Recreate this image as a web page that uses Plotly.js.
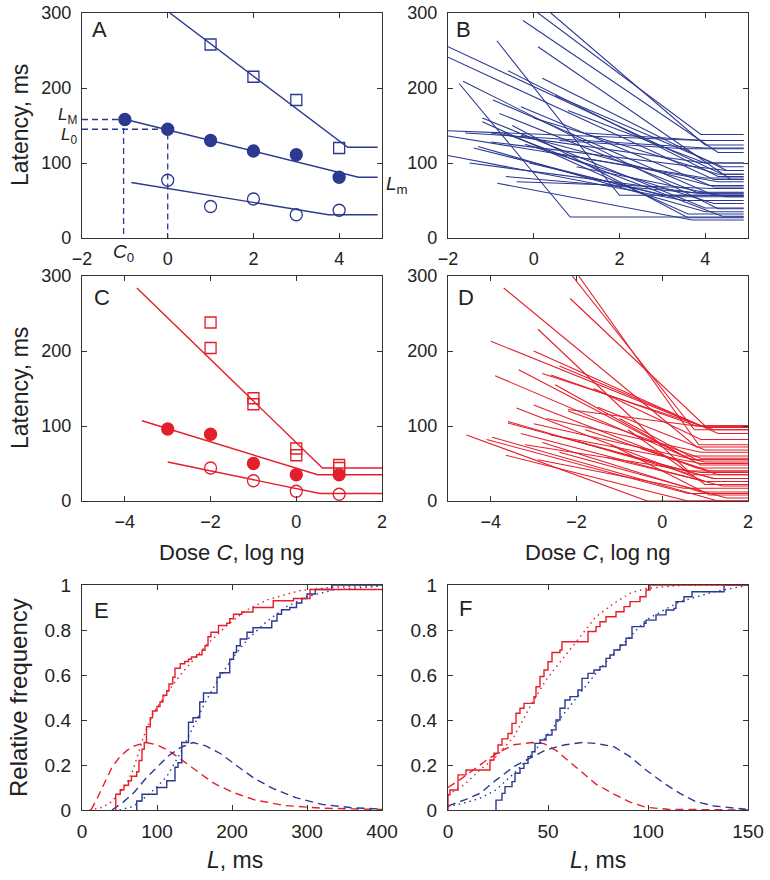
<!DOCTYPE html>
<html>
<head>
<meta charset="utf-8">
<script src="https://cdn.plot.ly/plotly-3.0.1.min.js"></script>
<style>
html,body{margin:0;padding:0;background:#fff}
#chart{width:770px;height:880px}
</style>
</head>
<body>
<div id="chart"></div>
<script>
const BLUE='#2b3990', RED='#e41e2a';
const FONT='Liberation Sans, Arial, Helvetica, sans-serif';

// ---- panel A: one animal, three latency measures vs dose
const aSqX=[1,2,3,4],           aSqY=[258,215,184,120];
const aFillX=[-1,0,1,2,3,4],    aFillY=[158,145,130,116,111,81];
const aOpenX=[0,1,2,3,4],       aOpenY=[77,42,52,31,37];
const aSqFitX=[0.05,4.2,4.9],   aSqFitY=[300,121,121];
const aFillFitX=[-1.05,4.45,4.9], aFillFitY=[159,81,81];
const aOpenFitX=[-0.85,3.75,4.9], aOpenFitY=[74,31,31];
const aC0=-1.03, aLM=158, aL0=145;

// ---- panel B: fitted broken lines, all animals (start, kink, plateau)
const bX0=[0.1,0.4,-0.25,0.1,-2,-2,-0.86,-1.74,-1.65,-0.6,0.2,-2,-2,-2,-1.2,-0.95,-0.8,-0.65,-0.85,-0.4,-1.2,-1.4,-1.0,-0.5,-0.3,0.5,-1.3,-0.2,0.0,-1.6,0.6,-0.7,0.3,-1.0,0.8,-0.3,1.0,-1.5,-0.1,1.2];
const bY0=[300,300,290,255,255,241,263,206,209,223,213,143,136,110,160,184,166,82,73,75,155,120,140,150,137,190,122,125,160,140,130,140,115,128,170,175,95,100,100,140];
const bXk=[3.9,4.0,4.3,4.6,4.4,4.2,2.0,0.85,4.3,4.3,4.5,3.9,4.0,3.5,4.0,4.2,3.8,4.0,3.7,4.2,3.6,3.0,4.0,3.6,4.1,4.4,4.0,4.2,4.3,4.0,3.5,4.4,4.3,4.5,4.0,4.2,4.5,3.8,3.2,4.0];
const bYk=[138,124,114,78,85,78,57,28,39,82,90,130,80,50,40,57,61,59,24,66,32,57,100,27,70,95,35,46,85,120,119,29,75,90,100,68,55,60,55,130];
const bEnd=4.9;

// ---- panel C: one animal (red group)
const cSqX=[-2,-2,-1,-1,0,0,1,1],  cSqY=[238,204,137,129,70,61,48,44];
const cFillX=[-3,-2,-1,0,1],       cFillY=[96,89,50,35,35];
const cOpenX=[-2,-1,0,1],          cOpenY=[44,27,13,9];
const cSqFitX=[-3.72,0.61,2],      cSqFitY=[284,44,44];
const cFillFitX=[-3.6,0.5,2],      cFillFitY=[107,35,35];
const cOpenFitX=[-3,0.55,2],       cOpenFitY=[52,10,10];

// ---- panel D: fitted broken lines, all animals (red group)
const dX0=[-2.1,-1.95,-2.15,-3.7,-4.0,-3.9,-2.9,-3.0,-3.35,-2.8,-2.6,-2.5,-2.2,-3.4,-3.6,-3.6,-4.57,-3.97,-3.65,-3.0,-3.0,-2.2,-2.8,-2.9,-1.8,-2.0,-3.3,-1.5,-2.6,-1.0,-1.2,-2.4,-1.6,-0.8,-3.2,-2.4,-0.5,-4.1,-1.3,-2.7];
const dY0=[300,300,270,284,213,167,229,200,175,170,168,155,122,124,106,104,88,85,61,103,128,120,78,55,95,80,90,125,88,110,75,65,150,95,75,180,70,82,58,110];
const dXk=[0.75,0.85,1.0,0.8,0.9,0.7,0.6,1.3,0.9,1.2,0.8,0.5,0.8,1.0,0.7,1.2,-0.35,1.3,0.6,1.0,0.8,0.9,0.9,0.5,1.1,1.2,1.4,1.0,0.9,0.8,1.1,1.5,0.9,1.0,0.9,1.0,1.3,0.6,1.0,0.9];
const dYk=[95,75,100,72,100,55,40,90,48,95,100,60,100,26,35,30,0,0,0,52,44,57,12,17,40,30,20,68,50,55,8,4,82,22,38,98,35,10,26,65];
const dEnd=2;

// ---- panel E: empirical cdf (steps), fitted cdf (dotted), density (dashed)
const eRedX=[45,51,56,62,66,73,76,80,83,86,91,94,100,104,108,113,116,121,124,131,137,142,146,153,160,164,168,172,182,193,197,202,213,228,255,282,304,400];
const eRedY=[0.07,0.09,0.11,0.13,0.15,0.17,0.22,0.27,0.30,0.37,0.41,0.44,0.46,0.48,0.51,0.53,0.56,0.59,0.63,0.65,0.66,0.67,0.68,0.69,0.71,0.73,0.77,0.79,0.82,0.83,0.85,0.87,0.88,0.90,0.93,0.94,0.98,0.98];
const eBlueX=[73,80,100,113,124,128,133,142,148,157,162,180,184,197,202,206,211,220,228,253,260,266,277,286,293,300,311,333,400];
const eBlueY=[0.04,0.07,0.10,0.13,0.19,0.21,0.30,0.39,0.41,0.48,0.52,0.59,0.61,0.67,0.70,0.73,0.76,0.79,0.81,0.84,0.87,0.89,0.90,0.92,0.94,0.96,0.98,1.0,1.0];
const eRedPdfX=[12,20,30,40,50,60,70,85,100,115,130,150,175,200,230,270,320,400];
const eRedPdfY=[0,0.05,0.12,0.19,0.235,0.265,0.285,0.30,0.29,0.265,0.23,0.18,0.12,0.08,0.045,0.02,0.008,0.002];
const eBluePdfX=[40,55,70,85,100,115,130,148,165,185,205,230,255,285,320,360,400];
const eBluePdfY=[0,0.035,0.08,0.14,0.19,0.24,0.275,0.30,0.285,0.25,0.20,0.14,0.095,0.055,0.025,0.01,0.004];
const eRedCdfX=[10,25,37,50,60,68,75,82,95,113,131,148,166,193,220,246,290,335,400];
const eRedCdfY=[0,0.01,0.03,0.074,0.12,0.178,0.25,0.326,0.43,0.52,0.6,0.667,0.733,0.82,0.889,0.933,0.975,0.99,1.0];
const eBlueCdfX=[50,68,91,113,131,148,166,184,202,220,246,273,300,335,400];
const eBlueCdfY=[0,0.015,0.074,0.148,0.252,0.37,0.489,0.593,0.681,0.756,0.837,0.904,0.948,0.978,0.996];

// ---- panel F
const fRedX=[0,1,5,9,21,23,25,27,30,32,34,36,38,43,44,46,48,50,52,56,57,70,74,76,79,84,88,91,96,99,101,150];
const fRedY=[0.067,0.089,0.156,0.178,0.222,0.252,0.289,0.316,0.34,0.385,0.43,0.452,0.474,0.504,0.548,0.593,0.622,0.659,0.70,0.711,0.748,0.793,0.815,0.837,0.859,0.881,0.904,0.926,0.948,0.978,1.0,1.0];
const fBlueX=[24,27,28.5,32,33.5,36,38,40,42,43.5,46,49,52,54,56,58.5,61,65,67,70,73,76,79,81,83,86,89,92,98,99,104,109,113,114,118,122,138,150];
const fBlueY=[0.044,0.074,0.104,0.126,0.163,0.185,0.207,0.237,0.259,0.296,0.311,0.333,0.356,0.40,0.452,0.489,0.504,0.533,0.585,0.607,0.622,0.637,0.674,0.689,0.711,0.733,0.763,0.815,0.83,0.844,0.867,0.889,0.896,0.926,0.948,0.97,1.0,1.0];
const fRedPdfX=[0,6,13,19,26,33,42,48,54,60,66,74,83,91,99,110,150];
const fRedPdfY=[0.10,0.135,0.18,0.22,0.26,0.29,0.30,0.295,0.265,0.22,0.175,0.115,0.07,0.035,0.012,0.003,0];
const fBluePdfX=[0,9,16,24,33,41,49,58,67,74,83,91,99,108,116,124,133,149];
const fBluePdfY=[0.018,0.047,0.074,0.133,0.193,0.23,0.267,0.289,0.30,0.296,0.281,0.237,0.178,0.119,0.074,0.037,0.018,0.003];
const fRedCdfX=[0,8,16,24,33,41,49,58,66,74,83,91,99,116,133,150];
const fRedCdfY=[0.067,0.111,0.178,0.237,0.326,0.459,0.578,0.681,0.77,0.859,0.919,0.963,0.985,0.998,1.0,1.0];
const fBlueCdfX=[0,9,16,24,33,41,49,58,66,74,83,91,99,108,116,133,149];
const fBlueCdfY=[0.015,0.033,0.052,0.089,0.163,0.237,0.326,0.43,0.519,0.607,0.696,0.77,0.844,0.889,0.926,0.97,0.997];

// page geometry in pixels
const W=770, H=880;
const fx=p=>p/W, fy=p=>1-p/H;
const DASH='8px,5px', DOT='1.5px,4px';

function broken(x0,y0,xk,yk,xEnd){
  const xs=[], ys=[];
  for(let i=0;i<x0.length;i++){
    xs.push(x0[i],xk[i],xEnd,null);
    ys.push(y0[i],yk[i],yk[i],null);
  }
  return {xs,ys};
}

function line(x,y,color,ax,dash,w){
  return {type:'scatter',mode:'lines',x,y,xaxis:'x'+ax,yaxis:'y'+ax,
    line:{color,width:w||1.4,dash:dash||'solid'},hoverinfo:'skip'};
}
function pts(x,y,color,ax,symbol,size){
  return {type:'scatter',mode:'markers',x,y,xaxis:'x'+ax,yaxis:'y'+ax,
    marker:{symbol,size,color,line:{color,width:1.3}},hoverinfo:'skip'};
}
function steps(x,y,color,ax){
  return {type:'scatter',mode:'lines',x:[x[0],...x],y:[0,...y],xaxis:'x'+ax,yaxis:'y'+ax,
    line:{color,width:1.4,shape:'hv'},hoverinfo:'skip'};
}

const bL=broken(bX0,bY0,bXk,bYk,bEnd);
const dL=broken(dX0,dY0,dXk,dYk,dEnd);

const traces=[
  // A
  line([-2,aC0,aC0,null,-2,0,0],[aLM,aLM,0,null,aL0,aL0,0],BLUE,'','6px,4px',1.3),
  line(aSqFitX,aSqFitY,BLUE,''),
  line(aFillFitX,aFillFitY,BLUE,''),
  line(aOpenFitX,aOpenFitY,BLUE,''),
  pts(aSqX,aSqY,BLUE,'','square-open',11),
  pts(aFillX,aFillY,BLUE,'','circle',12),
  pts(aOpenX,aOpenY,BLUE,'','circle-open',12),
  // B
  line(bL.xs,bL.ys,BLUE,'2',null,1.1),
  // C
  line(cSqFitX,cSqFitY,RED,'3'),
  line(cFillFitX,cFillFitY,RED,'3'),
  line(cOpenFitX,cOpenFitY,RED,'3'),
  pts(cSqX,cSqY,RED,'3','square-open',11),
  pts(cFillX,cFillY,RED,'3','circle',12),
  pts(cOpenX,cOpenY,RED,'3','circle-open',12),
  // D
  line(dL.xs,dL.ys,RED,'4',null,1.1),
  // E
  line(eRedPdfX,eRedPdfY,RED,'5',DASH),
  line(eBluePdfX,eBluePdfY,BLUE,'5',DASH),
  line(eRedCdfX,eRedCdfY,RED,'5',DOT),
  line(eBlueCdfX,eBlueCdfY,BLUE,'5',DOT),
  steps(eBlueX,eBlueY,BLUE,'5'),
  steps(eRedX,eRedY,RED,'5'),
  // F
  line(fRedPdfX,fRedPdfY,RED,'6',DASH),
  line(fBluePdfX,fBluePdfY,BLUE,'6',DASH),
  line(fRedCdfX,fRedCdfY,RED,'6',DOT),
  line(fBlueCdfX,fBlueCdfY,BLUE,'6',DOT),
  steps(fBlueX,fBlueY,BLUE,'6'),
  steps(fRedX,fRedY,RED,'6'),
];

const common={showline:true,mirror:'ticks',linecolor:'#333',linewidth:1.2,
  ticks:'inside',ticklen:5,tickcolor:'#333',tickwidth:1,showgrid:false,zeroline:false,
  fixedrange:true};

function xa(l,r,range,tickvals,anchor,fs){
  return {...common,domain:[fx(l),fx(r)],range,tickvals,anchor,
    tickfont:{family:FONT,size:fs||18,color:'#222'},ticklabelstandoff:4};
}
function ya(b,t,range,tickvals,anchor,fs){
  return {...common,domain:[fy(b),fy(t)],range,tickvals,anchor,
    tickfont:{family:FONT,size:fs||18,color:'#222'},ticklabelstandoff:6};
}

const L1=82,R1=382,L2=448,R2=748;
const yLat=[0,100,200,300], yRel=[0,0.2,0.4,0.6,0.8,1];

function note(text,x,y,size,opts){
  return {text,x:fx(x),y:fy(y),xref:'paper',yref:'paper',showarrow:false,
    xanchor:'center',yanchor:'middle',
    font:{family:FONT,size:size,color:'#222'},...(opts||{})};
}

const layout={
  width:W,height:H,margin:{l:0,r:0,t:0,b:0},
  paper_bgcolor:'#fff',plot_bgcolor:'#fff',showlegend:false,
  xaxis: xa(L1,R1,[-2,5],[-2,0,2,4],'y'),
  yaxis: ya(238,13,[0,300],yLat,'x'),
  xaxis2:xa(L2,R2,[-2,5],[-2,0,2,4],'y2'),
  yaxis2:ya(238,13,[0,300],yLat,'x2'),
  xaxis3:xa(L1,R1,[-5,2],[-4,-2,0,2],'y3'),
  yaxis3:ya(501,276,[0,300],yLat,'x3'),
  xaxis4:xa(L2,R2,[-5,2],[-4,-2,0,2],'y4'),
  yaxis4:ya(501,276,[0,300],yLat,'x4'),
  xaxis5:xa(L1,R1,[0,400],[0,100,200,300,400],'y5',19),
  yaxis5:ya(810,585,[0,1],yRel,'x5',19),
  xaxis6:xa(L2,R2,[0,150],[0,50,100,150],'y6',19),
  yaxis6:ya(810,585,[0,1],yRel,'x6',19),
  annotations:[
    note('A',100,30,22), note('B',463,30,22),
    note('C',102,297,22), note('D',466,297,22),
    note('E',102,610,22), note('F',465,608,22),
    note('<i>L</i><sub>M</sub>',79,116,17,{xanchor:'right'}),
    note('<i>L</i><sub>0</sub>',79,136,17,{xanchor:'right'}),
    note('<i>C</i><sub>0</sub>',123,253,19),
    note('<i>L</i><sub>m</sub>',397,185,19),
    note('Latency, ms',20,125,23,{textangle:-90}),
    note('Latency, ms',20,388,23,{textangle:-90}),
    note('Dose <i>C</i>, log ng',232,552,22),
    note('Dose <i>C</i>, log ng',598,552,22),
    note('Relative frequency',18,698,24,{textangle:-90}),
    note('<i>L</i>, ms',235,860,23),
    note('<i>L</i>, ms',598,860,23),
  ]
};

Plotly.newPlot('chart',traces,layout,{displayModeBar:false,staticPlot:true});
</script>
</body>
</html>
